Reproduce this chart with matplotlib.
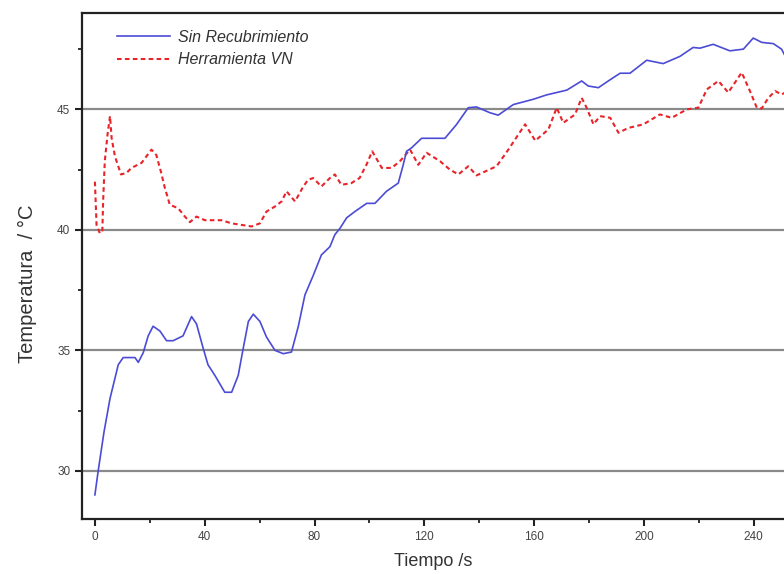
import matplotlib
matplotlib.use("Agg")
import matplotlib.pyplot as plt
from matplotlib.ticker import MultipleLocator

plt.rcParams["font.family"] = ["Liberation Sans", "DejaVu Sans"]

# Sin Recubrimiento (blue, solid)
t_sin = [0, 1.2, 3.3, 5.5, 8.5, 10.3, 14.6, 15.8, 17.6, 19.4, 21.2, 23.7, 26.1, 28.5,
         32.1, 35.2, 37.0, 39.4, 41.2, 43.7, 47.3, 49.8, 52.2, 54.0, 55.9, 57.7, 60.1,
         62.5, 65.6, 68.6, 71.6, 74.1, 76.5, 79.5, 82.5, 85.6, 87.4, 89.3, 91.7, 94.7,
         99.0, 102.0, 106.2, 110.5, 112.3, 113.5, 115.3, 119.0, 127.5, 131.7, 136.0,
         139.0, 143.9, 146.9, 152.4, 159.7, 164.5, 171.9, 177.3, 179.7, 183.4, 187.0,
         191.3, 194.9, 201.0, 207.0, 213.1, 217.9, 220.4, 225.2, 231.3, 236.2, 239.8,
         242.9, 247.1, 250.1, 251.5]
T_sin = [29.0, 30.0, 31.6, 33.0, 34.4, 34.7, 34.7, 34.5, 34.9, 35.6, 36.0, 35.8, 35.4, 35.4,
         35.6, 36.4, 36.1, 35.1, 34.4, 33.96, 33.26, 33.26, 33.96, 35.07, 36.2, 36.5, 36.2,
         35.55, 35.0, 34.86, 34.93, 36.0, 37.3, 38.1, 38.96, 39.3, 39.8, 40.07, 40.5, 40.76,
         41.1, 41.1, 41.6, 41.94, 42.7, 43.26, 43.4, 43.8, 43.8, 44.37, 45.07,
         45.1, 44.86, 44.76, 45.2, 45.42, 45.6, 45.8, 46.18, 45.97, 45.9, 46.18,
         46.5, 46.5, 47.04, 46.9, 47.2, 47.57, 47.54, 47.7, 47.43, 47.5, 47.96,
         47.78, 47.73, 47.5, 47.2]

# Herramienta VN (red, dashed)
t_vn = [0, 0.6, 1.8, 2.7, 3.0, 3.6, 4.6, 5.5, 6.1, 7.3, 9.5, 11.5, 13.3, 17.0, 20.6, 22.4,
        24.0, 25.5, 27.3, 30.3, 32.8, 34.6, 37.0, 40.1, 46.1, 49.8, 57.1, 60.1, 62.5,
        65.6, 68.0, 69.8, 72.9, 75.9, 77.7, 79.5, 82.5, 85.6, 87.4, 89.8, 93.4, 96.4,
        98.9, 101.0, 104.5, 108.1, 111.1, 114.8, 117.8, 120.8, 125.7, 129.3, 132.4, 136.0,
        139.0, 146.3, 150.6, 156.7, 159.0, 160.4, 165.2, 168.2, 170.6, 174.9, 177.3,
        179.1, 181.6, 184.0, 187.7, 190.7, 194.3, 199.8, 205.8, 210.1, 215.6, 219.8,
        222.9, 227.1, 230.7, 235.6, 238.6, 241.1, 242.9, 245.3, 247.8, 250.1, 251.5]
T_vn = [42.0, 40.2, 39.86, 39.93, 41.2, 42.85, 43.96, 44.72, 43.8, 43.05, 42.3, 42.36, 42.57,
        42.78, 43.33, 43.1, 42.43, 41.73, 41.04, 40.9, 40.55, 40.32, 40.55, 40.4, 40.4,
        40.27, 40.14, 40.27, 40.76, 40.97, 41.18, 41.6, 41.18, 41.8, 42.08, 42.15, 41.8,
        42.15, 42.3, 41.87, 41.94, 42.15, 42.7, 43.26, 42.57, 42.57, 42.85, 43.33, 42.7,
        43.2, 42.85, 42.5, 42.3, 42.64, 42.26, 42.64, 43.33, 44.38, 43.96, 43.7, 44.17,
        45.07, 44.44, 44.79, 45.48, 45.07, 44.38, 44.72, 44.65, 44.03, 44.23, 44.38,
        44.79, 44.65, 45.0, 45.07, 45.83, 46.18, 45.7, 46.53, 45.76, 45.07, 45.04,
        45.48, 45.76, 45.62, 45.7]

labels = ["Sin Recubrimiento", "Herramienta VN"]
x_ticks = [0, 40, 80, 120, 160, 200, 240]
y_ticks = [30, 35, 40, 45]

fig = plt.figure(figsize=(7.84, 5.74), dpi=100)
ax = fig.add_axes([82 / 784, 1 - 519 / 574, (784 - 82) / 784, (519 - 13) / 574])

for y in y_ticks:
    ax.axhline(y, color="#8a8a8a", lw=1.6, zorder=1)

ax.plot(t_sin, T_sin, color="#4b4bd6", lw=1.2, label=labels[0], zorder=3)
ax.plot(t_vn, T_vn, color="#e8242a", lw=1.5, ls=(0, (2.2, 1.6)), label=labels[1], zorder=2)

ax.set_xlim(-4.7, 251)
ax.set_ylim(28, 49)
ax.set_xticks(x_ticks)
ax.set_yticks(y_ticks)
ax.xaxis.set_minor_locator(MultipleLocator(20))
ax.yaxis.set_minor_locator(MultipleLocator(2.5))
ax.tick_params(which="major", direction="out", length=5, width=1.5, colors="#222222",
               labelsize=8.5, labelcolor="#444444")
ax.tick_params(which="minor", direction="out", length=3, width=1.3, colors="#222222")

for s in ["left", "bottom", "top"]:
    ax.spines[s].set_linewidth(1.6)
    ax.spines[s].set_color("#222222")
ax.spines["right"].set_visible(False)

ax.set_xlabel("Tiempo /s", fontsize=13, color="#333333", labelpad=7)
ax.set_ylabel("Temperatura  / °C", fontsize=14.5, color="#333333")
ax.yaxis.set_label_coords(-0.064, 0.465)

leg = ax.legend(loc="upper left", bbox_to_anchor=(0.03, 0.995), frameon=False,
                handlelength=3.3, handletextpad=0.5, labelspacing=0.45,
                prop={"style": "italic", "size": 11.5})
for txt in leg.get_texts():
    txt.set_color("#333333")

fig.savefig("out.png", dpi=100)
